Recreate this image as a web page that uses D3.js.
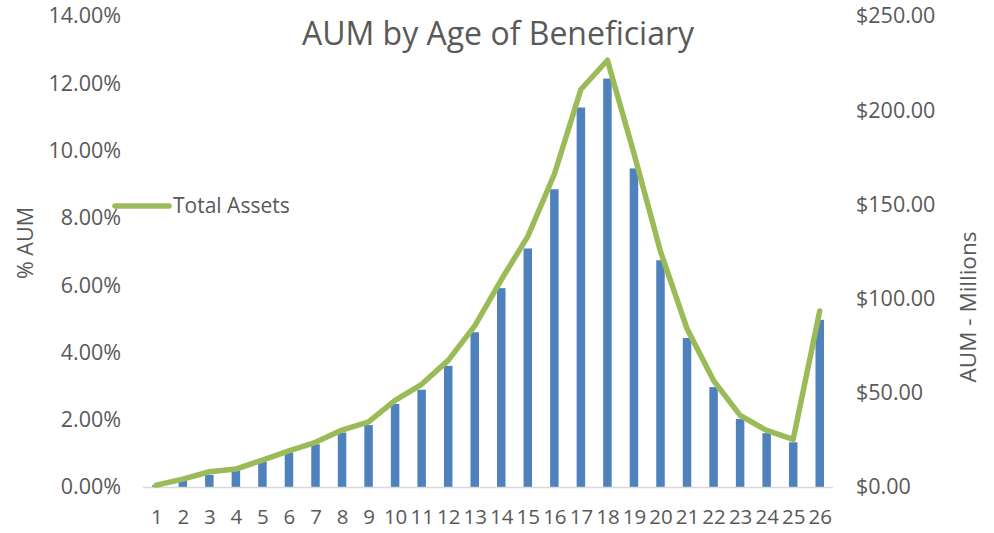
<!DOCTYPE html>
<html>
<head>
<meta charset="utf-8">
<script src="https://cdn.jsdelivr.net/npm/d3@7"></script>
<style>
  body { margin: 0; background: #fff; }
  svg text { font-family: "Open Sans", Lato, sans-serif; fill: #595959; }
</style>
</head>
<body>
<div id="chart"></div>
<script>
// données
const ages = ["1","2","3","4","5","6","7","8","9","10","11","12","13","14","15","16","17","18","19","20","21","22","23","24","25","26"];
const pctAUM = [0.05, 0.20, 0.36, 0.49, 0.75, 1.02, 1.27, 1.62, 1.84, 2.47, 2.89, 3.60, 4.60, 5.91, 7.09, 8.85, 11.28, 12.14, 9.47, 6.74, 4.43, 2.97, 2.02, 1.60, 1.33, 4.97];
const totalAssets = [1.0, 4.2, 8.1, 9.5, 14.3, 19.2, 23.7, 30.2, 34.6, 46.0, 54.5, 67.2, 85.5, 110.0, 133.0, 166.0, 211.0, 226.5, 177.0, 125.0, 84.0, 56.5, 38.0, 30.0, 25.3, 93.4];
const pctTicks = [0, 2, 4, 6, 8, 10, 12, 14];
const dollarTicks = [0, 50, 100, 150, 200, 250];

const W = 994, H = 533;
const plotLeft = 143, plotRight = 833, plotTop = 16, plotBottom = 487;

const svg = d3.select("#chart").append("svg")
    .attr("width", W)
    .attr("height", H);

let x = d3.scaleBand()
    .domain(ages)
    .range([plotLeft, plotRight])
    .paddingInner(0.68)
    .paddingOuter(0.34);

let xc = d3.scalePoint()
    .domain(ages)
    .range([plotLeft, plotRight])
    .padding(0.5);

let yL = d3.scaleLinear().domain([0, 14]).range([plotBottom, plotTop]);
let yR = d3.scaleLinear().domain([0, 250]).range([plotBottom, plotTop]);

// titre
svg.append("text")
    .attr("x", 498)
    .attr("y", 45)
    .attr("text-anchor", "middle")
    .style("font-size", "32px")
    .text("AUM by Age of Beneficiary");

// axe gauche
const fmtPct = d3.format(".2f");
svg.append("g")
    .attr("transform", "translate(" + 121 + ",0)")
    .call(d3.axisLeft(yL).tickValues(pctTicks).tickSize(0).tickPadding(0)
        .tickFormat(d => fmtPct(d) + "%"))
    .call(g => g.select(".domain").remove())
    .selectAll("text")
    .style("font-size", "21.5px")
    .attr("fill", "#595959");

// axe droit
const fmtDol = d3.format(",.2f");
svg.append("g")
    .attr("transform", "translate(" + 856 + ",0)")
    .call(d3.axisRight(yR).tickValues(dollarTicks).tickSize(0).tickPadding(0)
        .tickFormat(d => "$" + fmtDol(d)))
    .call(g => g.select(".domain").remove())
    .selectAll("text")
    .style("font-size", "21.5px")
    .attr("fill", "#595959");

// axe x
svg.append("g")
    .attr("transform", "translate(0," + plotBottom + ")")
    .call(d3.axisBottom(xc).tickSize(0).tickPadding(22))
    .call(g => g.select(".domain").remove())
    .selectAll("text")
    .style("font-size", "20.5px")
    .attr("fill", "#595959");

// titres des axes
svg.append("text")
    .attr("transform", "translate(33,243) rotate(-90)")
    .attr("text-anchor", "middle")
    .style("font-size", "21.5px")
    .text("% AUM");

svg.append("text")
    .attr("transform", "translate(976,307) rotate(-90)")
    .attr("text-anchor", "middle")
    .style("font-size", "22.5px")
    .text("AUM - Millions");

// barres
svg.selectAll(".bar")
    .data(pctAUM)
    .enter()
    .append("rect")
    .attr("class", "bar")
    .attr("x", (d, i) => x(ages[i]))
    .attr("y", d => yL(d))
    .attr("width", x.bandwidth())
    .attr("height", d => plotBottom - yL(d))
    .attr("fill", "#4F81BD");

// ligne de base
svg.append("line")
    .attr("x1", plotLeft).attr("x2", plotRight)
    .attr("y1", plotBottom + 0.5).attr("y2", plotBottom + 0.5)
    .attr("stroke", "#D9D9D9")
    .attr("stroke-width", 1.5);

// courbe Total Assets
const line = d3.line()
    .x((d, i) => xc(ages[i]))
    .y(d => yR(d));

svg.append("path")
    .datum(totalAssets)
    .attr("d", line)
    .attr("fill", "none")
    .attr("stroke", "#9BBB59")
    .attr("stroke-width", 5.5)
    .attr("stroke-linecap", "round")
    .attr("stroke-linejoin", "round");

// légende
svg.append("line")
    .attr("x1", 115).attr("x2", 169)
    .attr("y1", 206).attr("y2", 206)
    .attr("stroke", "#9BBB59")
    .attr("stroke-width", 5.5)
    .attr("stroke-linecap", "round");

svg.append("text")
    .attr("x", 173)
    .attr("y", 213)
    .style("font-size", "21px")
    .text("Total Assets");
</script>
</body>
</html>
